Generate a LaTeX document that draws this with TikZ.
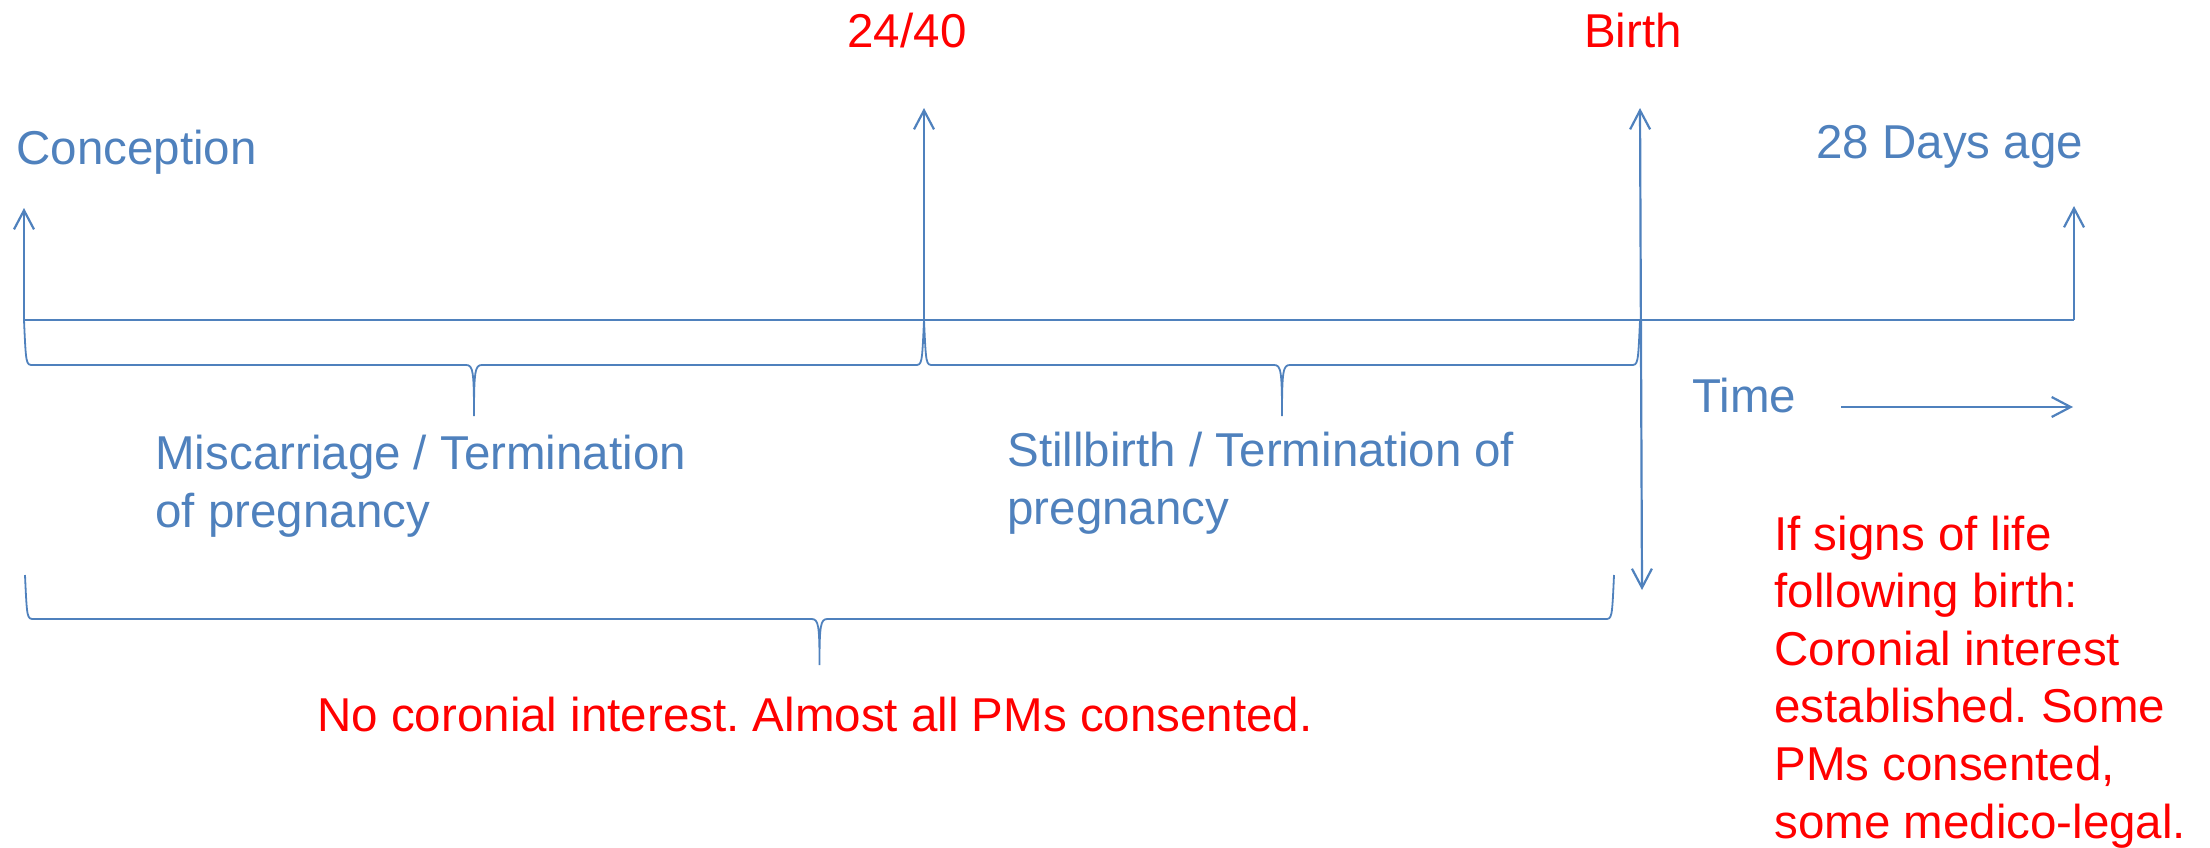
\documentclass[tikz,border=0pt]{standalone}
\usepackage{fontspec}
\setmainfont{Liberation Sans}
\frenchspacing
\usetikzlibrary{arrows.meta,positioning}
\definecolor{tlblue}{RGB}{79,129,189}
\definecolor{tlred}{RGB}{255,0,0}
\tikzset{
  axis/.style={draw=tlblue,line width=1.1pt},
  marker/.style={axis,-{Straight Barb[length=9.5pt,width=10pt]}},
  bothway/.style={axis,{Straight Barb[length=9.5pt,width=10pt]}-{Straight Barb[length=9.5pt,width=10pt]}},
  bracket/.style={draw=tlblue,line width=.9pt},
  lbl/.style={inner sep=0pt,text=tlblue,anchor=base west,align=left},
  note/.style={lbl,text=tlred},
}
% brace: left x, right x, top of ends, bar, tip
\newcommand{\timebrace}[5]{%
  \draw[bracket] (#1,#3) .. controls (#1+2,#4) and (#1+2,#4) .. (#1+9,#4)
    -- ({(#1+#2)/2-8},#4) .. controls ({(#1+#2)/2-1},#4) and ({(#1+#2)/2},#4+6) .. ({(#1+#2)/2},#5)
    .. controls ({(#1+#2)/2},#4+6) and ({(#1+#2)/2+1},#4) .. ({(#1+#2)/2+8},#4)
    -- (#2-9,#4) .. controls (#2-2,#4) and (#2-2,#4) .. (#2,#3);
}

\begin{document}
\begin{tikzpicture}[x=.5pt,y=-.5pt,font=\fontsize{23.75pt}{28.8pt}\selectfont]
  \useasboundingbox (0,0) rectangle (2210,847);
  % time line and its markers
  \coordinate (t0) at (24,320);
  \coordinate (t24) at (924,320);
  \coordinate (tb) at (1640,320);
  \coordinate (t28) at (2074,320);
  \coordinate (t0up) at (24,208);
  \coordinate (t24up) at (924,108);
  \coordinate (bup) at (1640,108);
  \coordinate (bdown) at (1642,590);
  \coordinate (t28up) at (2074,206);
  \draw[axis] (t0) -- (t28);
  \draw[marker] (t0) -- (t0up);
  \draw[marker] (t24) -- (t24up);
  \draw[bothway] (bup) -- (bdown);
  \draw[marker] (t28) -- (t28up);
  \timebrace{24}{924}{320}{365}{416}
  \timebrace{924}{1640}{320}{365}{416}
  \timebrace{25}{1614}{575}{619}{665}
  % labels (multi-line ones sit on their last line)
  \node[lbl] (conception) at (16,164) {Conception};
  \node[note,anchor=base] (wk24) at (907,47) {24/40};
  \node[note,anchor=base] (birth) at (1633,47) {Birth};
  \node[lbl] (day28) at (1816,158) {28 Days age};
  \node[lbl] (timelbl) at (1692,412) {Time};
  \coordinate (tarr0) at (1841,407);
  \coordinate (tarr1) at (2073,407);
  \draw[marker] (tarr0) -- (tarr1);
  \node[lbl] (miscarr) at (155,527) {Miscarriage / Termination\\of pregnancy};
  \node[lbl] (stillb) at (1007,524) {Stillbirth / Termination of\\pregnancy};
  \node[note,anchor=base] (nocoronial) at (815,731) {No coronial interest. Almost all PMs consented.};
  \node[note] (signslife) at (1774,838) {If signs of life\\following birth:\\Coronial interest\\established. Some\\PMs consented,\\some medico-legal.};
\end{tikzpicture}
\end{document}
